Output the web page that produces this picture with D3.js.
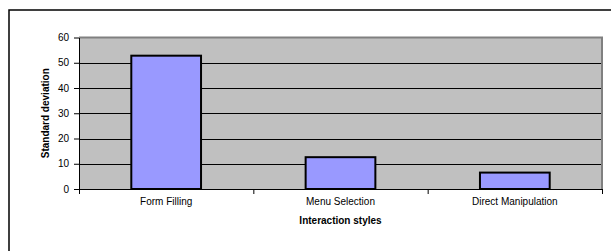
<!DOCTYPE html>
<html>
<head>
<meta charset="utf-8">
<script src="https://cdn.jsdelivr.net/npm/d3@7"></script>
<style>
  body { margin: 0; background: #fff; }
  svg { display: block; font-family: "Liberation Sans", Arial, sans-serif; }
  .axis path, .axis line { stroke: #000; }
  .axis text { fill: #000; font-size: 10px; }
</style>
</head>
<body>
<div id="chart"></div>
<script>
// data
let categories = ["Form Filling", "Menu Selection", "Direct Manipulation"]
let stdDev = [52.8, 12.6, 6.5]
let yTicks = [0, 10, 20, 30, 40, 50, 60]

let W = 611, H = 251
let plot = {left: 79, top: 37.5, right: 602, bottom: 189}

let svg = d3.select("#chart").append("svg")
  .attr("width", W)
  .attr("height", H)

// outer chart frame (runs off right and bottom of the picture)
svg.append("rect")
  .attr("x", 9).attr("y", 10)
  .attr("width", 620).attr("height", 260)
  .attr("fill", "#fff")
  .attr("stroke", "#000")
  .attr("stroke-width", 1.5)

// SCALES
let xScale = d3.scaleBand()
  .domain(categories)
  .range([plot.left, plot.right])
  .paddingInner(0.6)
  .paddingOuter(0.3)

let xEdges = d3.scaleLinear()
  .domain([0, categories.length])
  .range([plot.left, plot.right])

let yScale = d3.scaleLinear()
  .domain([0, 60])
  .range([plot.bottom, plot.top])

// plot area
svg.append("rect")
  .attr("x", plot.left).attr("y", plot.top)
  .attr("width", plot.right - plot.left)
  .attr("height", plot.bottom - plot.top)
  .attr("fill", "#c0c0c0")

// gridlines
svg.append("g")
  .selectAll("line")
  .data(yTicks.filter(d => d > 0 && d < 60))
  .join("line")
  .attr("x1", plot.left).attr("x2", plot.right)
  .attr("y1", d => Math.round(yScale(d)) + 0.5)
  .attr("y2", d => Math.round(yScale(d)) + 0.5)
  .attr("stroke", "#000")

// gray border top + right
svg.append("path")
  .attr("d", `M${plot.left},${plot.top}H${plot.right}V${plot.bottom}`)
  .attr("fill", "none")
  .attr("stroke", "#808080")
  .attr("stroke-width", 2)

// bars
svg.append("g")
  .selectAll("rect")
  .data(categories)
  .join("rect")
  .attr("x", d => xScale(d))
  .attr("width", xScale.bandwidth())
  .attr("y", (d, i) => yScale(stdDev[i]))
  .attr("height", (d, i) => plot.bottom - yScale(stdDev[i]))
  .attr("fill", "#9999ff")
  .attr("stroke", "#000")
  .attr("stroke-width", 2)

// AXES
svg.append("g")
  .attr("class", "y axis")
  .attr("transform", "translate(" + plot.left + ",0)")
  .call(d3.axisLeft(yScale).tickValues(yTicks).tickSize(5).tickPadding(5).tickSizeOuter(0))

svg.append("g")
  .attr("class", "x axis")
  .attr("transform", "translate(0," + plot.bottom + ")")
  .call(d3.axisBottom(xEdges).tickValues(d3.range(categories.length + 1)).tickSize(5).tickSizeOuter(0).tickFormat(""))

svg.append("g")
  .attr("class", "x axis labels")
  .attr("transform", "translate(0," + plot.bottom + ")")
  .call(d3.axisBottom(xScale).tickSize(0).tickPadding(9))
  .call(g => g.select(".domain").remove())

// axis titles
svg.append("text")
  .attr("x", (plot.left + plot.right) / 2)
  .attr("y", 224)
  .attr("text-anchor", "middle")
  .attr("font-size", "10px")
  .attr("font-weight", "bold")
  .text("Interaction styles")

svg.append("text")
  .attr("transform", "translate(49," + (plot.top + plot.bottom) / 2 + "),rotate(-90)")
  .attr("text-anchor", "middle")
  .attr("font-size", "10px")
  .attr("font-weight", "bold")
  .text("Standard deviation")
</script>
</body>
</html>
